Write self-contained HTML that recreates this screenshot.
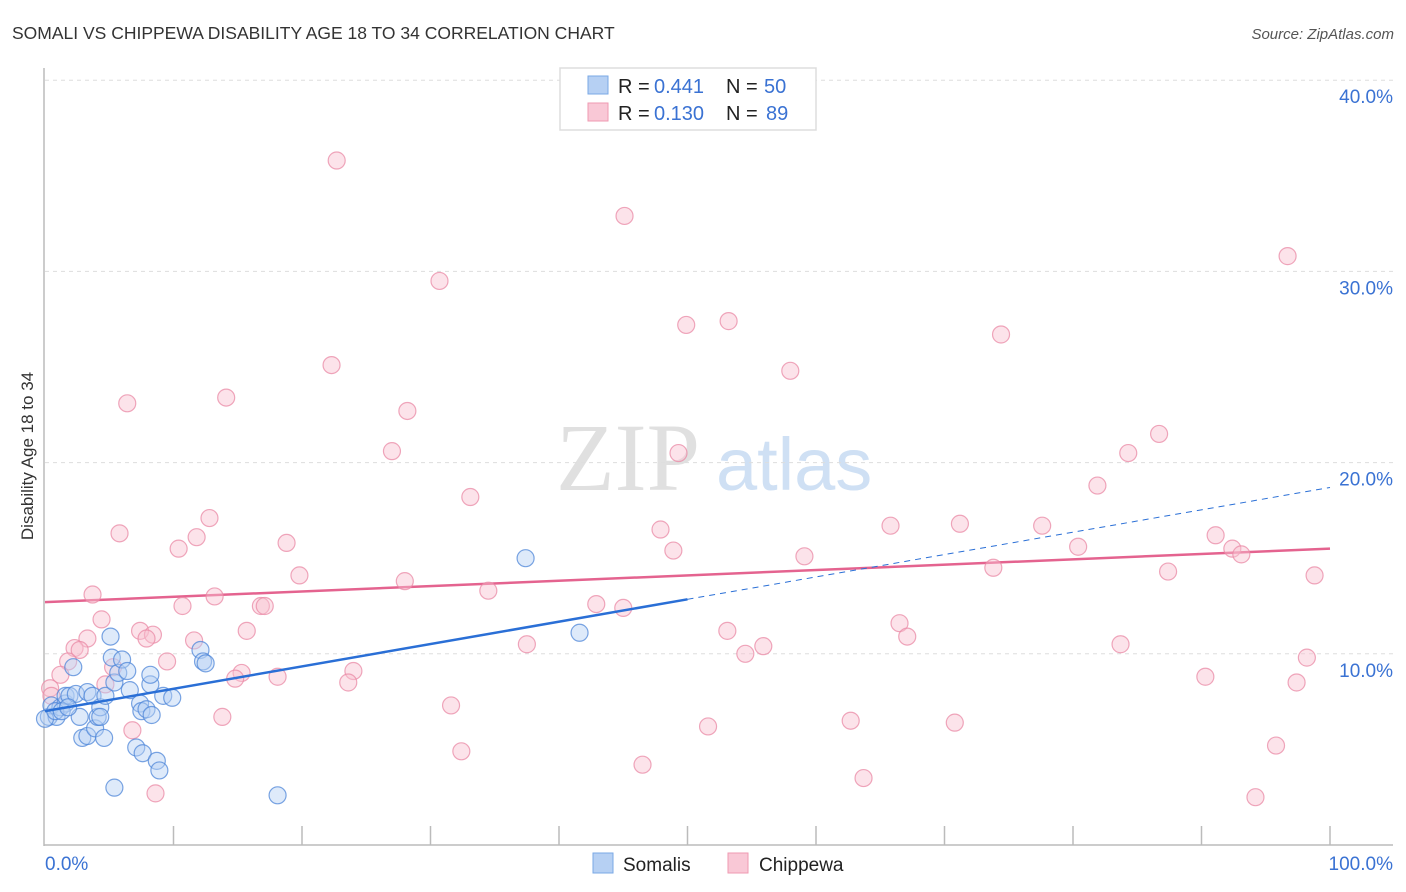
<!DOCTYPE html>
<html><head><meta charset="utf-8"><style>
body{margin:0;background:#fff;font-family:"Liberation Sans",sans-serif;}
svg{display:block}
</style></head><body>
<svg id="chart" width="1406" height="892">
<text x="12" y="39" font-size="17.5" fill="#333">SOMALI VS CHIPPEWA DISABILITY AGE 18 TO 34 CORRELATION CHART</text>
<text x="1394" y="39" font-size="15" fill="#555" font-style="italic" text-anchor="end">Source: ZipAtlas.com</text>
<text x="0" y="0" transform="translate(33,456) rotate(-90)" font-size="17" fill="#333" text-anchor="middle">Disability Age 18 to 34</text>
<text x="556" y="490" font-size="96" fill="#e0e0e0" font-family="Liberation Serif,serif">ZIP</text>
<text x="716" y="490" font-size="74" fill="#cfe0f4">atlas</text>
<g id="grid"></g><g id="axes"></g><g id="trend"></g><g id="pts"></g>
<g>
<rect x="560" y="68" width="256" height="62" fill="#fff" stroke="#ddd" stroke-width="1.5"/>
<rect x="588" y="76" width="20" height="18" fill="#b6d0f3" stroke="#7aa8e6"/>
<text x="618" y="93" font-size="20" fill="#222">R =</text>
<text x="654" y="93" font-size="20" fill="#3a72d3">0.441</text>
<text x="726" y="93" font-size="20" fill="#222">N =</text>
<text x="764" y="93" font-size="20" fill="#3a72d3">50</text>
<rect x="588" y="103" width="20" height="18" fill="#f9c8d6" stroke="#ef9ab2"/>
<text x="618" y="120" font-size="20" fill="#222">R =</text>
<text x="654" y="120" font-size="20" fill="#3a72d3">0.130</text>
<text x="726" y="120" font-size="20" fill="#222">N =</text>
<text x="766" y="120" font-size="20" fill="#3a72d3">89</text>
</g>
<g>
<rect x="593" y="853" width="20" height="20" fill="#b6d0f3" stroke="#7aa8e6"/>
<text x="623" y="871" font-size="19" fill="#222">Somalis</text>
<rect x="728" y="853" width="20" height="20" fill="#f9c8d6" stroke="#ef9ab2"/>
<text x="759" y="871" font-size="19" fill="#222">Chippewa</text>
</g>
</svg>
<script>
const yTicks=[10,20,30,40];
const yTickLabels=["10.0%","20.0%","30.0%","40.0%"];
const xTicks=[0,10,20,30,40,50,60,70,80,90,100];
const somaliX=[0.3,0.9,0.5,1.2,1.6,1.6,2.2,1.9,2.4,2.7,2.9,3.3,3.3,3.7,3.9,4.1,4.3,4.6,4.7,5.1,5.2,5.4,5.7,6.0,6.4,7.1,7.4,7.5,7.6,7.9,8.2,8.2,8.3,8.7,8.9,9.2,9.9,5.4,12.1,12.3,12.5,18.1,37.4,41.6,0,0.8,1.3,1.8,4.3,6.6];
const somaliY=[6.7,6.7,7.3,7.2,7.4,7.8,9.3,7.8,7.9,6.7,5.6,8.0,5.7,7.8,6.1,6.7,7.2,5.6,7.8,10.9,9.8,8.5,9.0,9.7,9.1,5.1,7.4,7.0,4.8,7.1,8.4,8.9,6.8,4.4,3.9,7.8,7.7,3.0,10.2,9.6,9.5,2.6,15.0,11.1,6.6,7.0,7.0,7.2,6.7,8.1];
const chipX=[22.7,45.1,30.7,96.7,49.9,53.2,74.4,22.3,58.0,6.4,14.1,28.2,27.0,49.3,84.3,86.7,33.1,81.9,5.8,12.8,11.8,10.4,18.8,47.9,48.9,59.1,65.8,71.2,77.6,80.4,91.1,92.4,93.1,73.8,87.4,98.8,19.8,28.0,34.5,3.7,13.2,10.7,16.8,17.1,42.9,45.0,4.4,66.5,67.1,7.4,8.4,7.9,3.3,11.6,15.7,53.1,37.5,55.9,54.5,83.7,2.3,2.7,1.8,5.3,9.5,1.2,15.3,24.0,98.2,18.1,14.8,4.7,23.6,90.3,97.4,0.4,0.5,31.6,13.8,62.7,70.8,51.6,6.8,32.4,95.8,46.5,63.7,8.6,94.2];
const chipY=[35.8,32.9,29.5,30.8,27.2,27.4,26.7,25.1,24.8,23.1,23.4,22.7,20.6,20.5,20.5,21.5,18.2,18.8,16.3,17.1,16.1,15.5,15.8,16.5,15.4,15.1,16.7,16.8,16.7,15.6,16.2,15.5,15.2,14.5,14.3,14.1,14.1,13.8,13.3,13.1,13.0,12.5,12.5,12.5,12.6,12.4,11.8,11.6,10.9,11.2,11.0,10.8,10.8,10.7,11.2,11.2,10.5,10.4,10.0,10.5,10.3,10.2,9.6,9.3,9.6,8.9,9.0,9.1,9.8,8.8,8.7,8.4,8.5,8.8,8.5,8.2,7.8,7.3,6.7,6.5,6.4,6.2,6.0,4.9,5.2,4.2,3.5,2.7,2.5];
const somaliTrend=[7.0,18.7];
const chipTrend=[12.7,15.5];
const somaliSolidEnd=50;

const NS="http://www.w3.org/2000/svg";
const X=v=>45+v*12.85, Y=v=>845-v*19.12;
function mk(tag,attrs,parent){const e=document.createElementNS(NS,tag);for(const k in attrs)e.setAttribute(k,attrs[k]);parent.appendChild(e);return e;}
const grid=document.getElementById('grid'),axes=document.getElementById('axes'),trend=document.getElementById('trend'),pts=document.getElementById('pts');
yTicks.forEach((t,i)=>{
 const l=mk('line',{x1:45,x2:1393,y1:Y(t),y2:Y(t),stroke:'#ddd','stroke-dasharray':'4,4'},grid);
 
 
 const tx=mk('text',{x:1393,y:Y(t)+23,'font-size':19,fill:'#3a72d3','text-anchor':'end'},grid);
 tx.textContent=yTickLabels[i];
 
 
});
const la=mk('line',{x1:44,x2:44,y1:68,y2:846,stroke:'#bbb','stroke-width':1.5},axes);


const ba=mk('line',{x1:44,x2:1393,y1:845,y2:845,stroke:'#bbb','stroke-width':1.5},axes);


xTicks.forEach(t=>{
 if(t===0)return;
 const l=mk('line',{x1:X(t),x2:X(t),y1:826,y2:845,stroke:'#bbb','stroke-width':1.5},axes);
 
 
});
const x0=mk('text',{x:45,y:870,'font-size':19,fill:'#3a72d3'},axes);x0.textContent='0.0%';


const x1=mk('text',{x:1393,y:870,'font-size':19,fill:'#3a72d3','text-anchor':'end'},axes);x1.textContent='100.0%';



function drawPts(xs,ys,fill,stroke,name){
 xs.forEach((x,i)=>{
  const c=mk('circle',{cx:X(x),cy:Y(ys[i]),r:8.5,fill:fill,'fill-opacity':0.45,stroke:stroke,'stroke-width':1.2,'stroke-opacity':0.75},pts);
  
  
 });
}
drawPts(chipX,chipY,'#f9c0d0','#ea8aa6','chippewa-point');
drawPts(somaliX,somaliY,'#b6d0f3','#4d86d8','somali-point');
const tv=(tr,x)=>tr[0]+(tr[1]-tr[0])*x/100;
const pl=mk('line',{x1:X(0),y1:Y(tv(chipTrend,0)),x2:X(100),y2:Y(tv(chipTrend,100)),stroke:'#e4638f','stroke-width':2.5},trend);


const bl=mk('line',{x1:X(0),y1:Y(tv(somaliTrend,0)),x2:X(somaliSolidEnd),y2:Y(tv(somaliTrend,somaliSolidEnd)),stroke:'#2a6fd6','stroke-width':2.5},pts);


const bd=mk('line',{x1:X(somaliSolidEnd),y1:Y(tv(somaliTrend,somaliSolidEnd)),x2:X(100),y2:Y(tv(somaliTrend,100)),stroke:'#2a6fd6','stroke-width':1,'stroke-dasharray':'6,5'},trend);


</script>
</body></html>
